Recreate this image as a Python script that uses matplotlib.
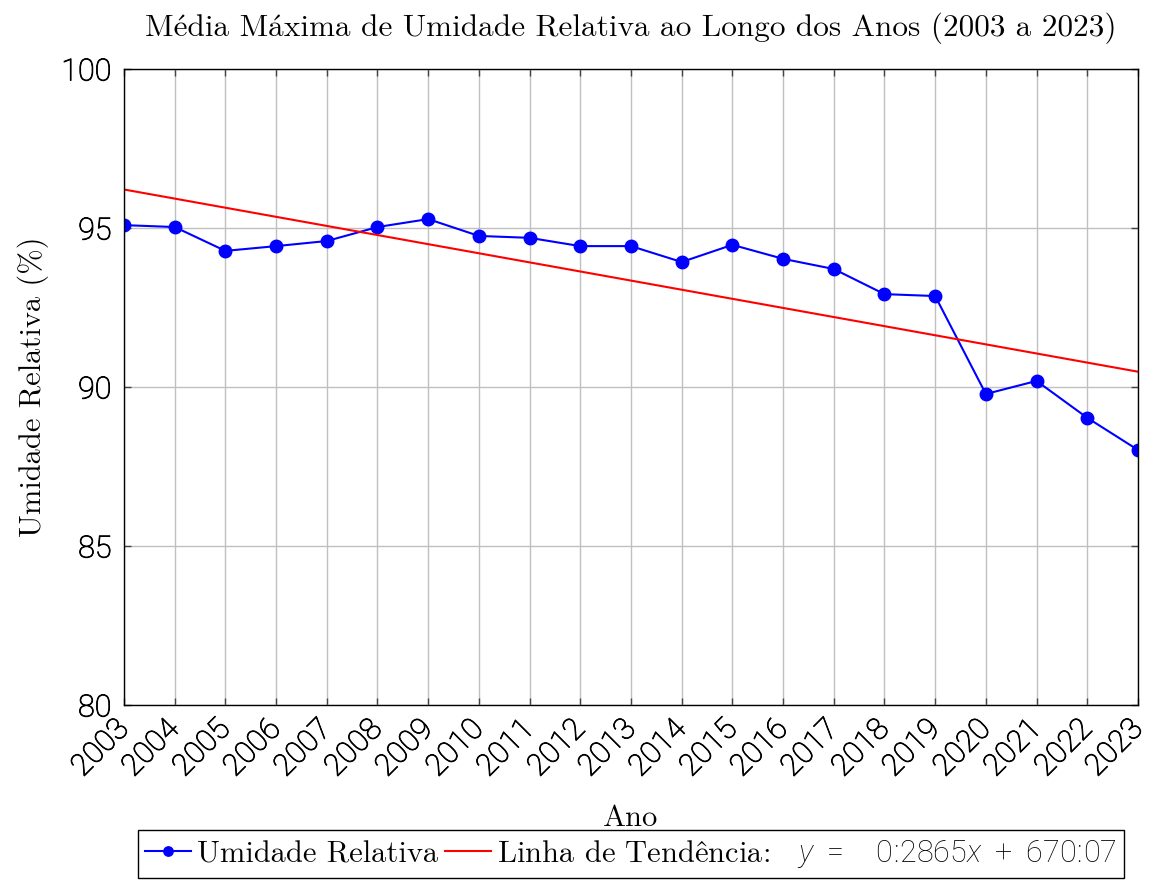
import matplotlib
matplotlib.use("Agg")
import matplotlib.pyplot as plt
import matplotlib.patheffects as pe
import numpy as np
from matplotlib import font_manager

# dados
anos = list(range(2003, 2024))
umidade = [95.09, 95.03, 94.28, 94.43, 94.59, 95.03, 95.28, 94.75, 94.69, 94.43,
           94.43, 93.93, 94.47, 94.03, 93.71, 92.92, 92.86, 89.78, 90.19, 89.03, 88.02]
# coeficientes da linha de tendência (legenda)
a = -0.2865
b = 670.07

instaladas = set(f.name for f in font_manager.fontManager.ttflist)

def primeira(cands):
    for c in cands:
        if c in instaladas:
            return c
    return cands[-1]

serif = primeira(['Latin Modern Roman', 'CMU Serif', 'Liberation Serif'])
sans = primeira(['Roboto', 'Open Sans', 'DejaVu Sans'])

plt.rcParams['font.family'] = [serif, 'DejaVu Serif']
plt.rcParams['mathtext.fontset'] = 'custom'
plt.rcParams['mathtext.rm'] = sans + ':light'
plt.rcParams['mathtext.it'] = sans + ':italic:light'

fig = plt.figure(figsize=(11.6, 8.8), dpi=100)
ax = fig.add_axes([0.1069, 0.1989, 0.8741, 0.7227])

x = np.array(anos)
tend = a * x + b
ax.plot(x, umidade, color='blue', lw=1.5, marker='o', ms=9, label='Umidade Relativa')
ax.plot(x, tend, color='red', lw=1.5,
        label='Linha de Tendência: ' + r'$\ \ y\ =\quad 0\!:\!2865x\ +\ 670\!:\!07$')

ax.set_xlim(2003, 2023)
ax.set_ylim(80, 100)
ax.set_xticks(anos)
ax.set_yticks([80, 85, 90, 95, 100])
ax.grid(True, color='#c0c0c0', lw=1)
ax.set_axisbelow(True)
ax.tick_params(direction='in', top=True, right=True, length=5, width=1, color='#444444')
for s in ax.spines.values():
    s.set_linewidth(1)

# traço fino para escurecer a fonte leve
escuro = [pe.withStroke(linewidth=0.6, foreground='black')]
ax.set_xticklabels([str(v) for v in anos], rotation=45, ha='right', va='center',
                   rotation_mode='anchor', family=sans, fontweight='light',
                   color='black', fontsize=22, path_effects=escuro)
ax.set_yticklabels(['80', '85', '90', '95', '100'], family=sans, fontweight='light',
                   color='black', fontsize=22, path_effects=escuro)
ax.tick_params(axis='x', pad=14)
ax.tick_params(axis='y', pad=9)

ax.set_title('Média Máxima de Umidade Relativa ao Longo dos Anos (2003 a 2023)',
             fontsize=22.5, pad=24)
ax.set_xlabel('Ano', fontsize=22, labelpad=16)
ax.set_ylabel('Umidade Relativa (%)', fontsize=22, labelpad=9)

leg = fig.legend(loc='center', bbox_to_anchor=(0.544, 0.0295), ncol=2, fontsize=22,
                 frameon=True, fancybox=False, edgecolor='black', framealpha=1,
                 handlelength=1.5, handletextpad=0.2, columnspacing=0.2,
                 borderpad=0.25, borderaxespad=0, markerscale=0.75)
leg.get_frame().set_linewidth(1)

fig.savefig('out.png', dpi=100)
